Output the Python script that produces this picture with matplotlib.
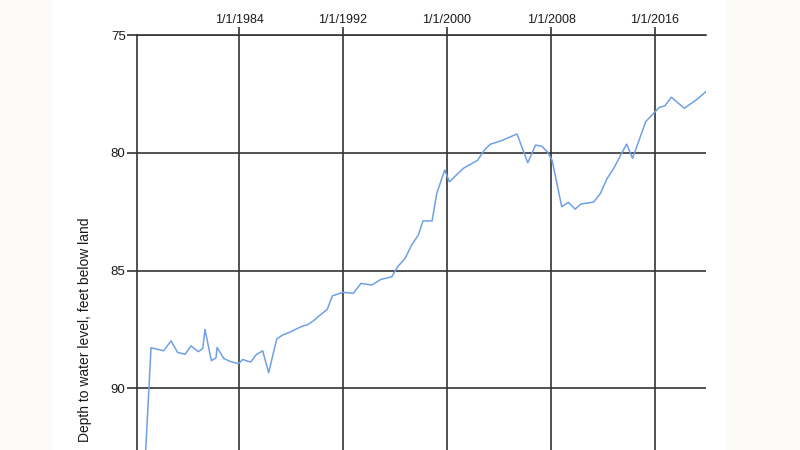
import matplotlib
matplotlib.use("Agg")
import matplotlib.pyplot as plt
import matplotlib.dates as mdates
from matplotlib.patches import Rectangle
import datetime as dt

plt.rcParams['font.family'] = ['Liberation Sans', 'DejaVu Sans']

# Decimal years and depth to water level (feet below land surface)
years = [1976.74, 1977.23, 1978.21, 1978.77, 1979.28, 1979.85, 1980.31, 1980.87,
         1981.21, 1981.38, 1981.87, 1982.23, 1982.31, 1982.82, 1983.25, 1983.95,
         1984.28, 1984.90, 1985.31, 1985.82, 1986.28, 1986.90, 1987.36, 1987.87,
         1988.38, 1988.90, 1989.25, 1989.72, 1990.18, 1990.79, 1991.18, 1991.98,
         1992.79, 1993.38, 1994.21, 1994.92, 1995.75, 1996.21, 1996.77, 1997.28,
         1997.79, 1998.15, 1998.85, 1999.21, 1999.82, 2000.18, 2001.25, 2002.36,
         2002.87, 2003.31, 2004.21, 2005.38, 2006.21, 2006.81, 2007.31, 2007.69,
         2008.08, 2008.82, 2009.33, 2009.85, 2010.31, 2011.28, 2011.81, 2012.28,
         2012.82, 2013.81, 2014.27, 2015.29, 2016.33, 2016.75, 2017.25, 2018.25,
         2019.25, 2019.92]
depth = [93.50, 88.27, 88.40, 87.98, 88.47, 88.55, 88.19, 88.44,
         88.30, 87.49, 88.82, 88.70, 88.26, 88.72, 88.84, 88.95,
         88.77, 88.88, 88.57, 88.40, 89.33, 87.90, 87.73, 87.62,
         87.48, 87.35, 87.30, 87.13, 86.91, 86.64, 86.07, 85.92,
         85.96, 85.54, 85.61, 85.37, 85.26, 84.83, 84.48, 83.91,
         83.49, 82.89, 82.89, 81.72, 80.73, 81.23, 80.66, 80.31,
         79.88, 79.64, 79.48, 79.20, 80.42, 79.67, 79.73, 79.94,
         80.31, 82.29, 82.10, 82.39, 82.17, 82.09, 81.71, 81.12,
         80.66, 79.63, 80.23, 78.67, 78.07, 78.01, 77.64, 78.11,
         77.72, 77.40]

x_ticks = ['1984-01-01', '1992-01-01', '2000-01-01', '2008-01-01', '2016-01-01']
y_ticks = [75, 80, 85, 90]
y_label = 'Depth to water level, feet below land'


def to_date(y):
    yr = int(y)
    start = dt.datetime(yr, 1, 1)
    end = dt.datetime(yr + 1, 1, 1)
    return start + (end - start) * (y - yr)


dates = [to_date(y) for y in years]

fig = plt.figure(figsize=(8, 4.5), dpi=100)
fig.patch.set_facecolor('#fcfbf7')
fig.patches.append(Rectangle((52 / 800, 0), (727 - 52) / 800, 1,
                             transform=fig.transFigure, facecolor='white',
                             edgecolor='none', zorder=-5))

ax = fig.add_axes([136.7 / 800, 0, (706 - 136.7) / 800, (450 - 35) / 450])
ax.set_facecolor('white')

ax.plot(dates, depth, color='#6fa0e6', lw=1.1, zorder=3)

ax.set_xlim(to_date(1976.13), to_date(2019.92))
ax.set_ylim(92.61, 75)

ax.xaxis.tick_top()
ax.set_xticks([mdates.date2num(dt.datetime.fromisoformat(t)) for t in x_ticks])
ax.set_xticklabels([f"1/1/{t[:4]}" for t in x_ticks])
ax.set_yticks(y_ticks)

gc = '#333333'
ax.grid(True, color=gc, lw=1.2, zorder=1)
ax.tick_params(axis='x', direction='out', length=6, width=1.2, color=gc,
               labelsize=9, pad=0.5, labelcolor='#1a1a1a')
ax.tick_params(axis='y', direction='out', length=7, width=1.2, color=gc,
               labelsize=9.5, pad=1, labelcolor='#1a1a1a')

for s in ['right', 'bottom']:
    ax.spines[s].set_visible(False)
for s in ['left', 'top']:
    ax.spines[s].set_color(gc)
    ax.spines[s].set_linewidth(1.2)

fig.text(85 / 800, 1 - 330 / 450, y_label, rotation=90, ha='center',
         va='center', fontsize=10, color='#1a1a1a')

fig.savefig('out.png', dpi=100, facecolor=fig.get_facecolor())
